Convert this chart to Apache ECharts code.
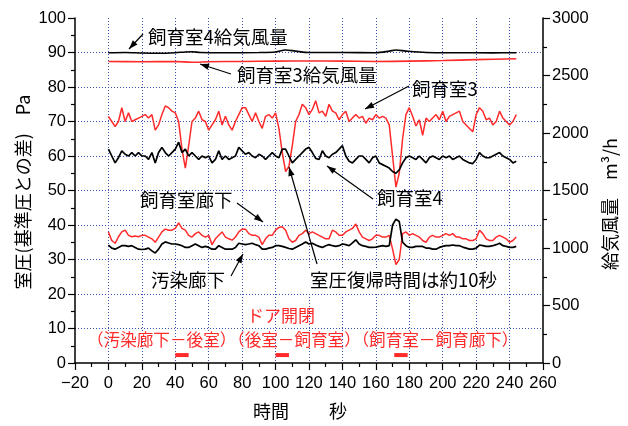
<!DOCTYPE html>
<html><head><meta charset="utf-8">
<script src="https://cdn.jsdelivr.net/npm/echarts@6/dist/echarts.min.js"></script>
<style>html,body{margin:0;padding:0;background:#fff}#c{width:628px;height:426px}</style>
</head><body><div id="c"></div>
<script>
// 時間 [秒], 室圧 [Pa]
const room3 = [[0,71.5],[2,70],[4,68.5],[6,70],[8,74],[10,70],[12,72.5],[14,70],[16,70.5],[18,71],[20,71.5],[22,72],[24,71],[26,72],[28,67.5],[30,69],[32,72],[34,74.5],[36,74],[38,73],[40,72.5],[42,70],[44,62],[46,56.5],[48,63],[50,70],[52,71],[54,73],[56,70.5],[58,70],[60,67.5],[62,69],[64,70.5],[66,73],[68,69],[70,71.5],[72,69],[74,67.5],[76,70],[78,72],[80,74],[82,74],[84,72],[86,70],[88,72.5],[90,70],[92,68],[94,71.5],[96,72],[98,71],[100,72.5],[102,68],[104,61],[106,55.5],[108,57],[110,63],[112,70],[114,72],[116,75],[118,74],[120,72],[122,73.5],[124,76],[126,72.5],[128,73],[130,71.5],[132,75],[134,73],[136,72.5],[138,70.5],[140,72],[142,73],[144,70],[146,71],[148,72],[150,71],[152,71.5],[154,69.5],[156,71],[158,70.5],[160,72],[162,71],[164,71.5],[166,71],[168,69],[170,60],[172,51],[174,55],[176,65],[178,72],[180,74],[182,71.5],[184,68.7],[186,70.5],[188,66],[190,71],[192,70],[194,71],[196,72],[198,70.5],[200,73],[202,70],[204,71.5],[206,72],[208,72.5],[210,73],[212,70],[214,69],[216,68],[218,67],[220,72],[222,74],[224,73],[226,70.5],[228,71],[230,69],[232,70],[234,73],[236,71],[238,70],[240,69],[242,70],[244,72]];
const room4 = [[0,62],[2,60],[4,58],[6,59.5],[8,61.5],[10,60.5],[12,60],[14,61],[16,60],[18,61],[20,60],[22,60],[24,59],[26,61],[28,58],[30,61],[32,62.5],[34,61],[36,60],[38,61],[40,62],[42,64],[44,61],[46,62],[48,60],[50,61],[52,60],[54,59],[56,60],[58,59.5],[60,60],[62,58],[64,59],[66,61.5],[68,59],[70,60],[72,59],[74,59.5],[76,60],[78,62.5],[80,61.5],[82,60.5],[84,61],[86,60],[88,59.5],[90,60.5],[92,60],[94,59],[96,60],[98,61],[100,60],[102,59.5],[104,62],[106,62],[108,60],[110,58],[112,59],[114,60],[116,61],[118,62],[120,62.5],[122,61],[124,59.3],[126,59],[128,61.5],[130,60],[132,59.5],[134,60.5],[136,61],[138,62],[140,63],[142,60],[144,58.5],[146,58],[148,59],[150,60],[152,60],[154,59],[156,58],[158,59.5],[160,60],[162,58],[164,57.5],[166,57],[168,56.5],[170,55.5],[172,55],[174,56],[176,58],[178,59.5],[180,60],[182,59.5],[184,59],[186,60],[188,59],[190,58],[192,59.5],[194,60],[196,59.5],[198,59],[200,60],[202,59.5],[204,60],[206,59],[208,59.5],[210,60],[212,59],[214,58.5],[216,58],[218,57.8],[220,59],[222,61],[224,60],[226,59.5],[228,59.5],[230,60],[232,60.5],[234,61],[236,60],[238,59.5],[240,59],[242,58],[244,58.5]];
const roomCorridor = [[0,38],[2,35.5],[4,34.7],[6,36.6],[8,38],[10,38.5],[12,37],[14,36.6],[16,36.8],[18,36.6],[20,37],[22,37],[24,36.5],[26,36],[28,35],[30,36.5],[32,38],[34,38.8],[36,38.5],[38,38.5],[40,39],[42,40.6],[44,39],[46,38.5],[48,37],[50,36.5],[52,37.5],[54,38],[56,37],[58,36.5],[60,37],[62,34.3],[64,36],[66,37],[68,38],[70,36.5],[72,36],[74,35.6],[76,36.5],[78,38],[80,38.8],[82,38.8],[84,37.5],[86,37],[88,37],[90,36.5],[92,34.3],[94,36],[96,37],[98,37],[100,38.5],[102,39.3],[104,39.5],[106,38.5],[108,36],[110,35],[112,35.5],[114,37],[116,37.5],[118,38.5],[120,37.5],[122,38],[124,37.5],[126,37],[128,36.5],[130,36],[132,36],[134,38.5],[136,38],[138,37],[140,37],[142,38],[144,38.5],[146,39],[148,40.3],[150,38],[152,36.5],[154,36],[156,35.5],[158,36],[160,37],[162,37],[164,36.5],[166,36.5],[168,37],[170,33],[172,28.5],[174,30],[176,37.5],[178,38],[180,37],[182,37.5],[184,37],[186,36.5],[188,35.5],[190,35],[192,36.5],[194,37],[196,36.5],[198,36.5],[200,37],[202,37.5],[204,37],[206,37.5],[208,36.5],[210,36.5],[212,36],[214,36],[216,35.5],[218,35.5],[220,36],[222,38.5],[224,37.5],[226,36],[228,35.5],[230,35.5],[232,36.5],[234,37],[236,36.5],[238,36],[240,35],[242,35.5],[244,36.5]];
const dirtyCorridor = [[0,34.2],[2,33.3],[4,33],[6,33.5],[8,34],[10,34],[12,33.8],[14,34],[16,33.5],[18,33],[20,32.9],[22,33],[24,33.3],[26,32.5],[28,31.9],[30,33],[32,34.5],[34,35.1],[36,34.8],[38,34.5],[40,34.5],[42,34.3],[44,34],[46,33.5],[48,33.5],[50,34],[52,34.5],[54,34],[56,33.5],[58,33.8],[60,33.5],[62,33],[64,33],[66,34],[68,33.5],[70,33],[72,33],[74,33],[76,33.5],[78,34.7],[80,34.5],[82,34.3],[84,34.5],[86,34.7],[88,34.3],[90,34],[92,33],[94,33],[96,33.3],[98,33.5],[100,34],[102,34],[104,33.8],[106,33.5],[108,33.2],[110,33],[112,33.5],[114,34],[116,34.5],[118,35.1],[120,34.5],[122,34.7],[124,34.2],[126,33.8],[128,33.5],[130,34],[132,34.3],[134,34],[136,33.8],[138,34],[140,34.5],[142,34.3],[144,34],[146,34.8],[148,35.7],[150,34.5],[152,34],[154,33.8],[156,33.5],[158,33.5],[160,33.6],[162,33.8],[164,34],[166,33.8],[168,34],[170,40],[172,41.7],[174,41],[176,35],[178,34],[180,33.5],[182,33.5],[184,33.8],[186,33.8],[188,33.8],[190,33.3],[192,33.3],[194,33],[196,33],[198,33.5],[200,33.8],[202,34],[204,34],[206,34.2],[208,34],[210,34],[212,33.6],[214,33.3],[216,33],[218,33],[220,33.3],[222,34.2],[224,34],[226,33.8],[228,33.8],[230,34],[232,34.3],[234,34.7],[236,34],[238,33.8],[240,33.5],[242,33.5],[244,33.8]];
// 給気風量 [m3/h]
const supply4 = [[0,2698],[10,2700],[20,2695],[30,2693],[40,2698],[46,2705],[50,2706],[55,2700],[70,2698],[90,2700],[100,2705],[106,2722],[112,2712],[120,2700],[140,2700],[160,2698],[168,2712],[172,2722],[178,2712],[190,2700],[210,2698],[230,2697],[244,2698]];
const supply3 = [[0,2622],[20,2620],[40,2622],[50,2615],[60,2620],[80,2622],[100,2625],[120,2626],[140,2625],[160,2622],[180,2625],[200,2630],[220,2638],[244,2645]];
// ドア開閉区間 [秒]
const doorOpen = [[40,48],[100,108],[171,179]];
const doorLevel = 2.3;
const xTicks = {min:-20, max:260, interval:20};
const yLeftTicks = {min:0, max:100, interval:10};
const yRightTicks = {min:0, max:3000, interval:500};

const RED = '#ff2a2a';
const GRIDC = '#3a4fb0';
const NUMF = '"Liberation Sans", Arial, sans-serif';
const JPF = '"Noto Sans CJK JP", sans-serif';

const chart = echarts.init(document.getElementById('c'), null, {renderer:'canvas'});

const axisCommon = {
  axisLine:{show:true, onZero:false, lineStyle:{color:'#000', width:1.5}},
  axisTick:{show:true, length:7, inside:false, lineStyle:{color:'#000', width:1.2}},
  minorTick:{show:true, splitNumber:2, length:4, lineStyle:{color:'#000', width:1.2}},
  axisLabel:{color:'#000', fontFamily:NUMF, fontSize:16.5, formatter:v => v < 0 ? '\u2212' + Math.abs(v) : String(v)}
};

const doorSeries = doorOpen.map(d => ({
  type:'line', xAxisIndex:0, yAxisIndex:0, silent:true, showSymbol:false,
  data:[[d[0],doorLevel],[d[1],doorLevel]],
  lineStyle:{color:RED, width:4}
}));

const option = {
  backgroundColor:'#fff',
  animation:false,
  grid:{left:75, right:85, top:18, bottom:63, containLabel:false},
  xAxis:[Object.assign({}, axisCommon, {
    type:'value', min:xTicks.min, max:xTicks.max, interval:xTicks.interval,
    axisLabel:Object.assign({}, axisCommon.axisLabel, {margin:12}),
    splitLine:{show:true, showMinLine:false, showMaxLine:false, lineStyle:{color:GRIDC, type:[1,2], width:1}}
  })],
  yAxis:[Object.assign({}, axisCommon, {
    type:'value', position:'left', min:yLeftTicks.min, max:yLeftTicks.max, interval:yLeftTicks.interval,
    axisLabel:Object.assign({}, axisCommon.axisLabel, {margin:9}),
    splitLine:{show:true, showMinLine:false, showMaxLine:false, lineStyle:{color:GRIDC, type:[1,2], width:1}}
  }), Object.assign({}, axisCommon, {
    type:'value', position:'right', min:yRightTicks.min, max:yRightTicks.max, interval:yRightTicks.interval,
    axisLabel:Object.assign({}, axisCommon.axisLabel, {margin:9}),
    splitLine:{show:false}
  })],
  series:[
    {name:'飼育室4給気風量', type:'line', yAxisIndex:1, data:supply4, showSymbol:false, smooth:0.3, lineStyle:{color:'#000', width:1.6}},
    {name:'飼育室3給気風量', type:'line', yAxisIndex:1, data:supply3, showSymbol:false, smooth:0.3, lineStyle:{color:RED, width:1.6}},
    {name:'飼育室3', type:'line', yAxisIndex:0, data:room3, showSymbol:false, lineStyle:{color:RED, width:1.5}},
    {name:'飼育室4', type:'line', yAxisIndex:0, data:room4, showSymbol:false, lineStyle:{color:'#000', width:1.7}},
    {name:'飼育室廊下', type:'line', yAxisIndex:0, data:roomCorridor, showSymbol:false, lineStyle:{color:RED, width:1.5}},
    {name:'汚染廊下', type:'line', yAxisIndex:0, data:dirtyCorridor, showSymbol:false, lineStyle:{color:'#000', width:1.7}}
  ].concat(doorSeries)
};
chart.setOption(option);

// annotations
function txt(x, y, s, opt) {
  return Object.assign({type:'text', x:x, y:y, silent:true, z:100,
    style:Object.assign({text:s, fill:'#000', font:'18.5px ' + JPF, textAlign:'left', textVerticalAlign:'middle'}, opt || {})});
}
function arrow(x1, y1, x2, y2, head) {
  const els = [{type:'line', silent:true, z:100, shape:{x1:x1, y1:y1, x2:x2, y2:y2}, style:{stroke:'#000', lineWidth:1.2}}];
  if (head !== false) {
    const a = Math.atan2(y2 - y1, x2 - x1), L = 9, W = 3.2;
    const bx = x2 - L * Math.cos(a), by = y2 - L * Math.sin(a);
    const px = -Math.sin(a) * W, py = Math.cos(a) * W;
    els.push({type:'polygon', silent:true, z:100, shape:{points:[[x2,y2],[bx+px,by+py],[bx-px,by-py]]}, style:{fill:'#000'}});
  }
  return els;
}
const g = [];
g.push(txt(148, 37, '飼育室4給気風量'));
g.push(...arrow(143, 34, 129, 49));
g.push(txt(237, 75, '飼育室3給気風量'));
g.push(...arrow(231, 74, 200, 64));
g.push(txt(412, 89, '飼育室3'));
g.push(...arrow(409, 86, 365, 109));
g.push(txt(377, 198, '飼育室4'));
g.push(...arrow(373, 199, 327, 166));
g.push(txt(140, 200, '飼育室廊下'));
g.push(...arrow(237, 203, 263, 222));
g.push(txt(151, 280, '汚染廊下'));
g.push(...arrow(231, 276, 243, 254));
g.push({type:'rect', silent:true, z:99, shape:{x:309, y:268, width:192, height:24}, style:{fill:'#fff'}});
g.push(txt(310, 280, '室圧復帰時間は約10秒'));
g.push(...arrow(317, 264, 289, 167));
g.push(txt(247, 316, 'ドア開閉', {fill:RED, font:'17px ' + JPF}));
g.push(txt(87, 340, '（汚染廊下－後室）（後室－飼育室）（飼育室－飼育廊下）', {fill:RED, font:'16.6px ' + JPF}));
g.push(txt(253, 411, '時間', {font:'18px ' + JPF}));
g.push(txt(329, 411, '秒', {font:'18px ' + JPF}));
g.push({type:'text', silent:true, z:100, x:23, y:192, rotation:Math.PI/2,
  style:{text:'室圧(基準圧との差)　Pa', fill:'#000', font:'18px ' + JPF, textAlign:'center', textVerticalAlign:'middle'}});
g.push({type:'text', silent:true, z:100, x:610, y:204, rotation:Math.PI/2,
  style:{text:'給気風量　m³/h', fill:'#000', font:'18px ' + JPF, textAlign:'center', textVerticalAlign:'middle'}});
chart.setOption({graphic:{elements:g}});
</script>
</body></html>
